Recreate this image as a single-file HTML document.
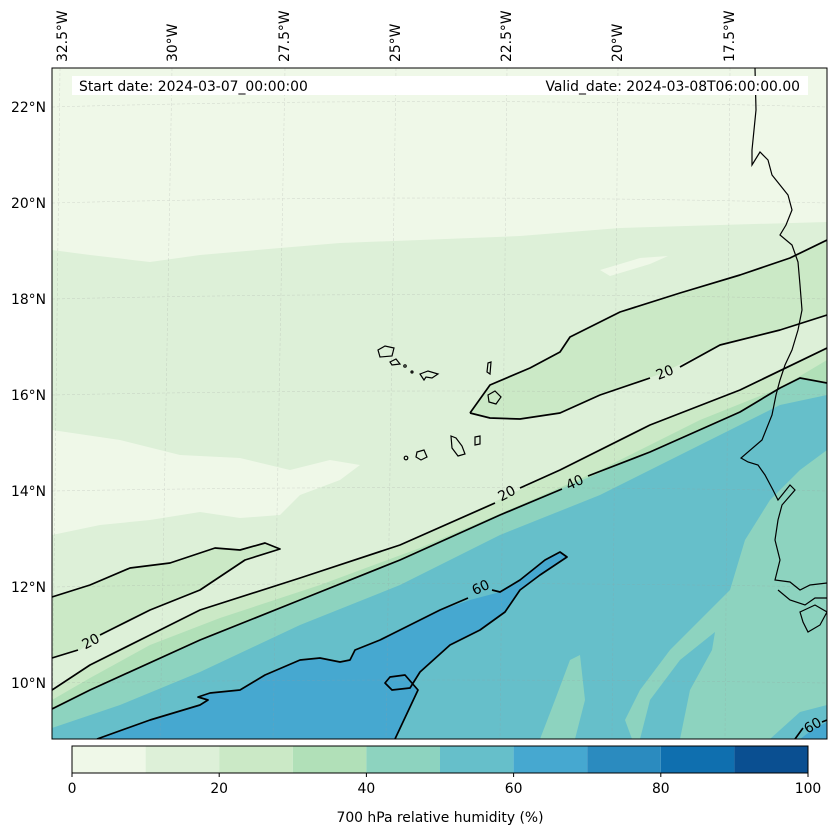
<!DOCTYPE html>
<html><head><meta charset="utf-8"><style>
body{margin:0;background:#fff;}
svg{display:block;font-family:"DejaVu Sans","Liberation Sans",sans-serif;}
</style></head><body>
<svg width="837" height="836" viewBox="0 0 837 836" xmlns="http://www.w3.org/2000/svg">
<defs><clipPath id="m"><rect x="52" y="68" width="775" height="671"/></clipPath></defs>
<g clip-path="url(#m)">
<rect x="52" y="68" width="775" height="671" fill="#eff8e8"/>
<path d="M52,250 L90,255 L150,262 L200,255 L280,248 L340,243 L420,240 L520,236 L620,228 L720,225 L827,222 L827,739 L52,739Z" fill="#ddf0d8"/>
<path d="M52,430 L120,440 L180,455 L240,458 L290,470 L330,460 L360,465 L340,480 L300,495 L280,515 L240,518 L200,512 L150,520 L100,525 L52,535Z" fill="#eff8e8"/>
<path d="M600,270 L640,258 L668,256 L650,264 L610,276Z" fill="#eff8e8"/>
<path d="M470,413 L490,385 L530,368 L560,352 L570,337 L620,312 L680,293 L740,275 L790,258 L827,240 L827,315 L780,330 L720,345 L660,374 L600,395 L560,413 L520,419 L490,418Z" fill="#cbe9c6"/>
<path d="M52,597 L90,585 L130,568 L170,563 L215,548 L240,550 L265,543 L280,549 L245,560 L200,590 L150,610 L110,630 L80,650 L52,658Z" fill="#cbe9c6"/>
<path d="M52,690 L90,665 L150,635 L200,610 L300,578 L400,545 L507,496 L560,470 L650,425 L740,390 L827,348 L827,739 L52,739Z" fill="#cbe9c6"/>
<path d="M52,700 L90,678 L150,645 L220,618 L320,585 L420,548 L520,505 L600,470 L700,420 L780,388 L827,360 L827,739 L52,739Z" fill="#b1e0b8"/>
<path d="M52,709 L90,690 L200,640 L300,600 L400,560 L500,515 L575,483 L650,452 L740,412 L780,388 L800,378 L827,383 L827,739 L52,739Z" fill="#8dd3bf"/>
<path d="M52,728 L120,705 L200,672 L300,625 L400,585 L500,535 L600,495 L700,445 L780,405 L827,395 L827,739 L52,739Z" fill="#66bfca"/>
<path d="M827,450 L800,470 L770,500 L745,540 L730,590 L700,620 L670,650 L640,690 L625,720 L632,739 L827,739Z" fill="#8dd3bf"/>
<path d="M540,739 L555,700 L570,660 L580,655 L585,700 L575,739Z" fill="#8dd3bf"/>
<path d="M640,739 L650,700 L680,660 L715,632 L712,650 L690,690 L680,739Z" fill="#66bfca"/>
<path d="M770,739 L800,712 L827,705 L827,739Z" fill="#66bfca"/>
<path d="M97,739 L150,720 L200,705 L208,700 L198,697 L210,693 L240,690 L265,675 L300,660 L320,658 L340,662 L350,660 L355,650 L380,640 L410,625 L440,610 L470,600 L500,592 L520,580 L545,560 L560,552 L567,557 L540,575 L520,590 L505,612 L480,630 L450,645 L420,672 L410,688 L392,690 L385,683 L390,677 L405,675 L418,690 L395,739Z" fill="#46a8d0"/>
<path d="M800,739 L815,728 L827,722 L827,739Z" fill="#46a8d0"/>
<g stroke="#999" stroke-width="0.6" stroke-dasharray="3,2" opacity="0.3" fill="none">
<path d="M60,68 L52,739"/><path d="M172,68 L160,739"/><path d="M285,68 L273,739"/><path d="M396,68 L386,739"/><path d="M507,68 L500,739"/><path d="M618,68 L612,739"/><path d="M730,68 L725,739"/>
<path d="M52,107 Q440,96 827,107"/><path d="M52,203 Q440,193 827,203"/><path d="M52,299 Q440,290 827,299"/><path d="M52,395 Q440,387 827,395"/><path d="M52,491 Q440,484 827,491"/><path d="M52,587 Q440,580 827,587"/><path d="M52,683 Q440,677 827,683"/>
</g>
<g fill="none" stroke="#000" stroke-width="1.7" stroke-linejoin="round">
<path d="M470,413 L490,385 L530,368 L560,352 L570,337 L620,312 L680,293 L740,275 L790,258 L827,240"/>
<path d="M470,413 L490,418 L520,419 L560,413 L600,395 L650,378 M680,367 L720,345 L780,330 L827,315"/>
<path d="M52,597 L90,585 L130,568 L170,563 L215,548 L240,550 L265,543 L280,549 L245,560 L200,590 L150,610 L110,630 L100,635 M78,650 L52,658"/>
<path d="M52,690 L90,665 L150,635 L200,610 L300,578 L400,545 L495,503 M520,488 L560,470 L650,425 L740,390 L827,348"/>
<path d="M52,709 L90,690 L200,640 L300,600 L400,560 L500,515 L562,489 M588,476 L650,452 L740,412 L780,388 L800,378 L827,383"/>
<path d="M97,739 L150,720 L200,705 L208,700 L198,697 L210,693 L240,690 L265,675 L300,660 L320,658 L340,662 L350,660 L355,650 L380,640 L410,625 L440,610 L468,598 M492,590 L500,592 L520,580 L545,560 L560,552 L567,557 L540,575 L520,590 L505,612 L480,630 L450,645 L420,672 L410,688 L392,690 L385,683 L390,677 L405,675 L418,690 L395,739"/>
<path d="M795,739 L803,728 M822,722 L827,720"/>
</g>
<g font-size="13.9" fill="#000" text-anchor="middle">
<text transform="translate(91,642) rotate(-28)" dy="4">20</text>
<text transform="translate(507,494) rotate(-28)" dy="4">20</text>
<text transform="translate(665,373) rotate(-22)" dy="4">20</text>
<text transform="translate(575,483) rotate(-25)" dy="4">40</text>
<text transform="translate(481,588) rotate(-25)" dy="4">60</text>
<text transform="translate(813,726) rotate(-30)" dy="4">60</text>
</g>
<g fill="none" stroke="#000" stroke-width="1.2">
<path d="M755,68 L756,110 L752,150 L752,165 L760,152 L768,160 L772,175 L780,185 L788,195 L792,210 L786,225 L780,235 L792,245 L798,262 L800,285 L802,310 L798,330 L792,350 L785,365 L780,380 L776,395 L772,415 L762,440 L741,458 L748,462 L758,465 L765,475 L773,490 L778,500 L790,485 L795,490 L782,505 L778,520 L775,540 L780,560 L775,580 L790,582 L800,590 L810,585 L827,583"/>
<path d="M778,590 L790,600 L805,605 L815,598 L827,598"/>
<path d="M800,612 L815,605 L827,612 L820,625 L808,632 L803,622Z"/>
<path d="M378,350 L385,346 L394,348 L392,356 L380,357Z"/>
<path d="M390,362 L396,359 L400,364 L392,365Z"/>
<circle cx="405" cy="366" r="1.2"/><circle cx="412" cy="372" r="1"/>
<path d="M420,374 L428,371 L438,374 L432,378 L426,377 L424,380Z"/>
<path d="M488,363 L491,362 L490,374 L487,372Z"/>
<path d="M488,395 L495,391 L501,397 L496,404 L489,402Z"/>
<path d="M451,436 L456,438 L462,446 L465,454 L458,456 L452,448Z"/>
<path d="M475,437 L480,436 L480,444 L475,445Z"/>
<path d="M417,452 L424,450 L427,457 L421,460 L416,457Z"/>
<circle cx="406" cy="458" r="1.8"/>
</g>
</g>
<rect x="52" y="68" width="775" height="671" fill="none" stroke="#000" stroke-width="1"/>
<rect x="72" y="76" width="736" height="19" fill="#fff"/>
<g font-size="13.9" fill="#000">
<text x="79" y="91">Start date: 2024-03-07_00:00:00</text>
<text x="800" y="91" text-anchor="end">Valid_date: 2024-03-08T06:00:00.00</text>
</g>
<g font-size="13.9" fill="#000">
<text transform="translate(67,62) rotate(-90)">32.5°W</text>
<text transform="translate(177,62) rotate(-90)">30°W</text>
<text transform="translate(289,62) rotate(-90)">27.5°W</text>
<text transform="translate(400,62) rotate(-90)">25°W</text>
<text transform="translate(511,62) rotate(-90)">22.5°W</text>
<text transform="translate(622,62) rotate(-90)">20°W</text>
<text transform="translate(734,62) rotate(-90)">17.5°W</text>
</g>
<g font-size="13.9" fill="#000" text-anchor="end">
<text x="46" y="112">22°N</text><text x="46" y="208">20°N</text><text x="46" y="304">18°N</text><text x="46" y="400">16°N</text><text x="46" y="496">14°N</text><text x="46" y="592">12°N</text><text x="46" y="688">10°N</text>
</g>
<g>
<rect x="72" y="746" width="73.6" height="27" fill="#eff8e8"/>
<rect x="145.6" y="746" width="73.6" height="27" fill="#ddf0d8"/>
<rect x="219.2" y="746" width="73.6" height="27" fill="#cbe9c6"/>
<rect x="292.8" y="746" width="73.6" height="27" fill="#b1e0b8"/>
<rect x="366.4" y="746" width="73.6" height="27" fill="#8dd3bf"/>
<rect x="440" y="746" width="73.6" height="27" fill="#66bfca"/>
<rect x="513.6" y="746" width="73.6" height="27" fill="#46a8d0"/>
<rect x="587.2" y="746" width="73.6" height="27" fill="#2b8bbf"/>
<rect x="660.8" y="746" width="73.6" height="27" fill="#0f6faf"/>
<rect x="734.4" y="746" width="73.6" height="27" fill="#0a4f91"/>
<rect x="72" y="746" width="736" height="27" fill="none" stroke="#000" stroke-width="1"/>
<g stroke="#000"><path d="M72,773v4M219.2,773v4M366.4,773v4M513.6,773v4M660.8,773v4M808,773v4"/></g>
<g font-size="13.9" text-anchor="middle" fill="#000">
<text x="72" y="793">0</text><text x="219.2" y="793">20</text><text x="366.4" y="793">40</text><text x="513.6" y="793">60</text><text x="660.8" y="793">80</text><text x="808" y="793">100</text>
<text x="440" y="822">700 hPa relative humidity (%)</text>
</g>
</g>
</svg>
</body></html>
